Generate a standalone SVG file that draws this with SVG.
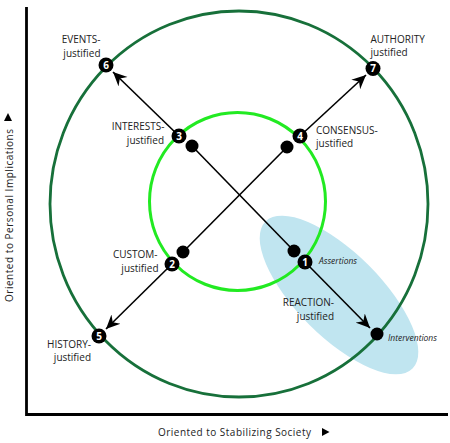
<svg xmlns="http://www.w3.org/2000/svg" width="450" height="443" viewBox="0 0 450 443">
<style>
.lbl{font-family:"Open Sans","Noto Sans",sans-serif;font-size:10px;fill:#222}
.it{font-family:"Open Sans","Noto Sans",sans-serif;font-size:8.5px;font-style:italic;fill:#222}
.num{font-family:"Open Sans","Noto Sans",sans-serif;font-size:10px;font-weight:bold;fill:#fff;text-anchor:middle}
.end{text-anchor:end}
.con{stroke:#000;stroke-width:1.6;fill:none}
.nc{fill:#000}
</style>
<defs>
<marker id="arr" viewBox="-14 -7 15 14" refX="0" refY="0" markerWidth="15" markerHeight="14" markerUnits="userSpaceOnUse" orient="auto">
<path d="M0,0 L-14,-6.5 L-9.5,0 L-14,6.5 Z" fill="#000"/>
</marker>
</defs>
<rect width="450" height="443" fill="#fff"/>
<g id="axes">
<path d="M26.5,7 V414.5 H448" stroke="#000" stroke-width="2.8" fill="none"/>
<text class="lbl" x="158" y="436" textLength="153" lengthAdjust="spacing">Oriented to Stabilizing Society</text>
<polygon points="322,428 329.5,432 322,436" fill="#000"/>
<text class="lbl" transform="translate(13,302) rotate(-90)" x="0" y="0" textLength="173" lengthAdjust="spacing">Oriented to Personal Implications</text>
<polygon points="4,121 12,121 8,113" fill="#000"/>
</g>
<g id="region">
<ellipse cx="339" cy="295" rx="104" ry="42" transform="rotate(45 339 295)" fill="#c0e5f0"/>
</g>
<g id="rings">
<ellipse cx="239" cy="204" rx="189" ry="193" fill="none" stroke="#17703a" stroke-width="2.8"/>
<ellipse cx="237.5" cy="201.5" rx="88" ry="89" fill="none" stroke="#22ea22" stroke-width="3"/>
</g>
<g id="connectors">
<line class="con" x1="192" y1="146" x2="294" y2="251"/>
<line class="con" x1="183" y1="252" x2="287" y2="147"/>
<line class="con" x1="179" y1="136" x2="113" y2="72" marker-end="url(#arr)"/>
<line class="con" x1="300" y1="136" x2="366" y2="75" marker-end="url(#arr)"/>
<line class="con" x1="172" y1="264" x2="106" y2="329" marker-end="url(#arr)"/>
<line class="con" x1="305" y1="262" x2="370" y2="328" marker-end="url(#arr)"/>
</g>
<g id="dot-a"><circle class="nc" cx="192" cy="146" r="6.5"/></g>
<g id="dot-b"><circle class="nc" cx="287" cy="147" r="6.5"/></g>
<g id="dot-c"><circle class="nc" cx="183" cy="252" r="6.5"/></g>
<g id="dot-d"><circle class="nc" cx="294" cy="251" r="6.5"/></g>
<g id="node-1">
<circle class="nc" cx="305" cy="262" r="7.5"/>
<text class="num" x="305" y="265.6">1</text>
<text class="it" x="319" y="263.5">Assertions</text>
<text class="lbl end"><tspan x="334" y="306.4">REACTION-</tspan><tspan x="334" y="320.1">justified</tspan></text>
</g>
<g id="node-interventions">
<circle class="nc" cx="377" cy="334" r="6.5"/>
<text class="it" x="388" y="340.5">Interventions</text>
</g>
<g id="node-2">
<circle class="nc" cx="172" cy="264" r="7.5"/>
<text class="num" x="172" y="267.6">2</text>
<text class="lbl end"><tspan x="157.5" y="257.9">CUSTOM-</tspan><tspan x="158.5" y="271.6">justified</tspan></text>
</g>
<g id="node-3">
<circle class="nc" cx="179" cy="136" r="7.5"/>
<text class="num" x="179" y="139.6">3</text>
<text class="lbl end"><tspan x="164.5" y="130.4">INTERESTS-</tspan><tspan x="164" y="144.1">justified</tspan></text>
</g>
<g id="node-4">
<circle class="nc" cx="300" cy="136" r="7.5"/>
<text class="num" x="300" y="139.6">4</text>
<text class="lbl"><tspan x="316" y="133.7">CONSENSUS-</tspan><tspan x="316" y="147.4">justified</tspan></text>
</g>
<g id="node-5">
<circle class="nc" cx="99" cy="336" r="7.5"/>
<text class="num" x="99" y="339.6">5</text>
<text class="lbl end"><tspan x="91" y="347.7">HISTORY-</tspan><tspan x="91" y="361.4">justified</tspan></text>
</g>
<g id="node-6">
<circle class="nc" cx="106" cy="65" r="7.5"/>
<text class="num" x="106" y="68.6">6</text>
<text class="lbl end"><tspan x="100.5" y="43.2">EVENTS-</tspan><tspan x="100.5" y="56.9">justified</tspan></text>
</g>
<g id="node-7">
<circle class="nc" cx="373" cy="68.5" r="7.5"/>
<text class="num" x="373" y="72.1">7</text>
<text class="lbl"><tspan x="370.5" y="42.7">AUTHORITY</tspan><tspan x="370.5" y="56.4">justified</tspan></text>
</g>
</svg>
